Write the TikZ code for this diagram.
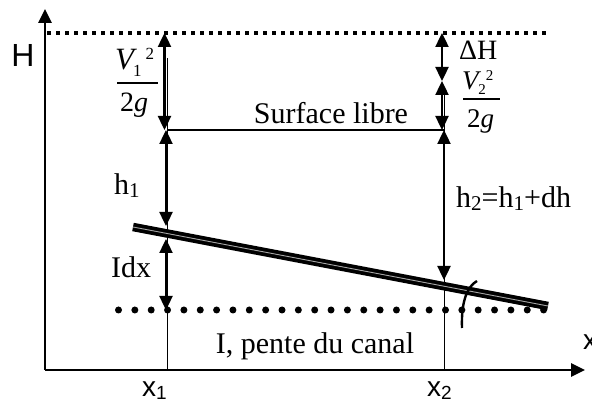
\documentclass[tikz,border=0pt]{standalone}
\usepackage{fontspec}
\setmainfont{Liberation Serif}
\setsansfont{Liberation Sans}
\usetikzlibrary{arrows.meta}
\newcommand\fsz[1]{\fontsize{#1}{#1}\selectfont}
\begin{document}
\begin{tikzpicture}[x=1pt,y=-1pt,
  axis/.style={line width=2.6pt,-{Triangle[length=14pt,width=13pt]}},
  dimarrow/.style={line width=2.4pt,{Triangle[length=14pt,width=13pt]}-{Triangle[length=14pt,width=13pt]}},
  thin/.style={line width=1.3pt},
  lbl/.style={inner sep=0pt,anchor=base west,font=\fsz{30}},
  sanslbl/.style={inner sep=0pt,font=\sffamily\fsz{28}},
  bed/.style={line width=3.8pt,double=gray!70,double distance=0.9pt},
  sqdots/.style={line width=3.6pt,dash pattern=on 3.6pt off 5.4pt},
  rddots/.style={line width=7pt,line cap=round,dash pattern=on 0pt off 16.35pt}]
\useasboundingbox (0,0) rectangle (592,403);
% coordinates
\coordinate (O) at (45,370);
\coordinate (Ytip) at (45,9);
\coordinate (Xtip) at (585,370);
\coordinate (T0) at (47,33);
\coordinate (T1) at (549,33);
\coordinate (D0) at (118.5,310);
\coordinate (D1) at (545,310);
\coordinate (B0) at (133,227);
\coordinate (B1) at (548,306);
\coordinate (L1top) at (167.5,58);
\coordinate (L1bot) at (167.5,370);
\coordinate (L2top) at (444.5,95);
\coordinate (L2bot) at (444.5,370);
\coordinate (S1) at (167.5,130);
\coordinate (S2) at (444.5,130);
\coordinate (A1top) at (164.5,33);
\coordinate (A1mid) at (164.5,130);
\coordinate (H1top) at (166,130);
\coordinate (H1bot) at (166,226);
\coordinate (I1top) at (166,239);
\coordinate (I1bot) at (166,310);
\coordinate (A2top) at (442,33);
\coordinate (A2m) at (442,81);
\coordinate (A2mid) at (442,130);
\coordinate (H2top) at (444,130);
\coordinate (H2bot) at (444,280);
\coordinate (K0) at (462,328);
\coordinate (K1) at (477,281);
% axes
\draw[axis] (O) -- (Ytip);
\draw[axis] (O) -- (Xtip);
% dotted lines
\draw[sqdots] (T0) -- (T1);
\draw[rddots] (D0) -- (D1);
% thin verticals and surface
\draw[thin] (L1top) -- (L1bot);
\draw[thin] (L2top) -- (L2bot);
\draw[thin] (S1) -- (S2);
% bed
\draw[bed] (B0) -- (B1);
% dimension arrows
\draw[dimarrow] (A1top) -- (A1mid);
\draw[dimarrow] (H1top) -- (H1bot);
\draw[dimarrow] (I1top) -- (I1bot);
\draw[dimarrow] (A2top) -- (A2m);
\draw[dimarrow] (A2m) -- (A2mid);
\draw[dimarrow] (H2top) -- (H2bot);
% slope mark
\draw[line width=2.4pt] (K0) .. controls (461,300) and (468,286) .. (K1);
% fractions
\node[lbl,font=\fsz{31}] (v1) at (115,70) {\textit{V}\kern-4pt\raisebox{-7pt}{\fsz{17}1}\kern4pt\raisebox{10pt}{\fsz{17}2}};
\coordinate (F1a) at (117,83);
\coordinate (F1b) at (158,83);
\draw[line width=1.2pt] (F1a) -- (F1b);
\node[lbl,font=\fsz{28}] (g1) at (120,112) {2\textit{g}};
\node[lbl,font=\fsz{27}] (v2) at (462,90) {\textit{V}\kern-3pt\raisebox{-5pt}{\fsz{15}2}\raisebox{9pt}{\fsz{15}2}};
\coordinate (F2a) at (463,99);
\coordinate (F2b) at (500,99);
\draw[line width=1.2pt] (F2a) -- (F2b);
\node[lbl,font=\fsz{27}] (g2) at (467,128) {2\textit{g}};
% labels
\node[lbl,font=\fsz{28}] (dH) at (459,60) {ΔH};
\node[lbl,anchor=base] (surf) at (331,124) {Surface libre};
\node[lbl,anchor=base] (pente) at (315,354) {I, pente du canal};
\node[lbl] (h1) at (114,195) {h\raisebox{-3pt}{\fsz{21}1}};
\node[lbl] (h2) at (456,208) {h\raisebox{-3pt}{\fsz{21}2}=h\raisebox{-3pt}{\fsz{21}1}+dh};
\node[lbl] (idx) at (111,278) {Idx};
\node[sanslbl,font=\sffamily\fsz{32}] (H) at (23,55) {H};
\node[sanslbl,anchor=base west] (x1) at (142,396) {x\raisebox{-3pt}{\fsz{19}1}};
\node[sanslbl,anchor=base west] (x2) at (427,396) {x\raisebox{-3pt}{\fsz{19}2}};
\node[sanslbl,anchor=base west] (xa) at (583,350) {x};
\end{tikzpicture}
\end{document}
